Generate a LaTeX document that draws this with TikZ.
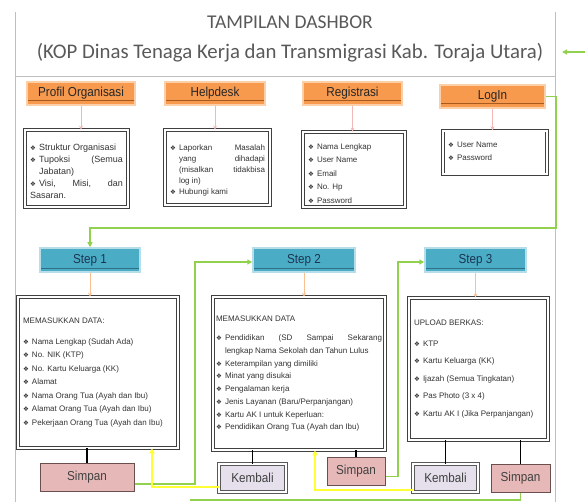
\documentclass[tikz,border=0pt]{standalone}
\usepackage{fontspec}
\setmainfont{Liberation Sans}
\newfontfamily\titlefont{Carlito}
\newfontfamily\hdrfont[FakeStretch=0.9]{Liberation Sans}
\newfontfamily\bulfont{DejaVu Sans}
\usepackage{xcolor}
\usepackage{tikz}
\usetikzlibrary{arrows.meta}
\definecolor{hdrorg}{HTML}{F79A4E}
\definecolor{hdrglow}{HTML}{FBCFA8}
\definecolor{hdrline}{HTML}{A65A1E}
\definecolor{stpblue}{HTML}{4BACC6}
\definecolor{stpglow}{HTML}{B7DDE8}
\definecolor{stpline}{HTML}{2E7187}
\definecolor{stptxt}{HTML}{1C3550}
\definecolor{spnfill}{HTML}{E6B9B8}
\definecolor{spnedge}{HTML}{6B4F4F}
\definecolor{kblfill}{HTML}{E5E0EC}
\definecolor{grn}{HTML}{92D050}
\definecolor{ylw}{HTML}{FFFF33}
\definecolor{pinkarr}{HTML}{F2B8B8}
\definecolor{orgarr}{HTML}{FAC090}
\newcommand\itm[1]{\par\noindent\hangindent=9pt\hangafter=1\hbox to 9pt{{\bulfont\fontsize{6.5}{6.5}\selectfont\char"2756}\hfil}#1}
\tikzset{
  ttl/.style  = {align=center, text=black!65, font=\titlefont\fontsize{19.5}{30}\selectfont},
  hdr/.style  = {rectangle, fill=hdrorg, draw=hdrglow, line width=1.5pt, minimum height=23pt,
                 text=black!85, font=\hdrfont\fontsize{13}{13}\selectfont,
                 path picture={\draw[hdrline, line width=1pt] ([yshift=4pt]path picture bounding box.south west) -- ([yshift=4pt]path picture bounding box.south east);}},
  stp/.style  = {rectangle, fill=stpblue, draw=stpglow, line width=1.5pt, minimum height=24pt,
                 text=stptxt, font=\hdrfont\fontsize{13}{13}\selectfont,
                 path picture={\draw[stpline, line width=0.8pt] ([yshift=4pt]path picture bounding box.south west) -- ([yshift=4pt]path picture bounding box.south east);}},
  lst/.style  = {rectangle, draw=black!75, double=white, double distance=2pt, line width=0.7pt,
                 fill=white, align=justify, inner xsep=5pt, text=black!80,
                 font=\fontsize{8}{#1}\selectfont},
  spn/.style  = {rectangle, fill=spnfill, draw=spnedge, line width=1pt, minimum height=28pt,
                 text=black!75, font=\hdrfont\fontsize{13}{13}\selectfont},
  kbl/.style  = {rectangle, fill=kblfill, draw=black!65, double=white, double distance=1.5pt,
                 line width=0.8pt, minimum height=28pt, text=black!75, font=\hdrfont\fontsize{13}{13}\selectfont},
  tik/.style  = {-{Stealth[length=4pt,width=4pt]}, draw=pinkarr, line width=0.8pt},
  tiko/.style = {-{Stealth[length=4pt,width=4pt]}, draw=orgarr, line width=0.8pt},
  gline/.style= {-{Triangle[length=5pt,width=5pt]}, draw=grn, line width=1.6pt},
  gplain/.style={draw=grn, line width=1.6pt},
  yline/.style= {-{Triangle[length=5pt,width=5pt]}, draw=ylw, line width=1.6pt},
  bline/.style= {draw=black, line width=1.3pt},
  frm/.style  = {draw=black!25, line width=0.8pt},
}
\begin{document}
\begin{tikzpicture}[x=1pt, y=-1pt]
  \useasboundingbox (0,0) rectangle (585,502);

  \draw[frm] (15,12) -- (15,502);
  \draw[frm] (555,12) -- (555,502);
  \draw[frm] (15,76) -- (555,76);

  \node[ttl] (title) at (290,39) {TAMPILAN DASHBOR\\{\fontsize{20.8}{30}\selectfont(KOP Dinas Tenaga Kerja dan Transmigrasi Kab. Toraja Utara)}};

  \node[hdr, minimum width=108pt] (prof)  at (81,93.5)  {Profil Organisasi};
  \node[hdr, minimum width=100pt] (help)  at (215,93.5) {Helpdesk};
  \node[hdr, minimum width=99pt]  (reg)   at (352.5,93.5) {Registrasi};
  \node[hdr, minimum width=105pt] (login) at (492.5,96.5) {LogIn};

  \node[lst=12, text width=93pt, minimum height=77pt, font=\fontsize{9}{12}\selectfont] (d1) at (76.5,168.5)
    {\itm{Struktur Organisasi}\itm{Tupoksi (Semua\linebreak Jabatan)}\itm{Visi, Misi, dan\linebreak Sasaran.}};
  \node[lst=11, text width=95pt, minimum height=75pt] (d2) at (217.5,167.5)
    {\itm{Laporkan Masalah\linebreak yang dihadapi\linebreak (misalkan tidakbisa\linebreak log in)}\itm{Hubungi kami}};
  \node[lst=13.5, text width=92pt, minimum height=75pt] (d3) at (354,169.5)
    {\itm{Nama Lengkap}\itm{User Name}\itm{Email}\itm{No. Hp}\itm{Password}};
  \node[lst=13.5, text width=94pt, minimum height=39pt] (d4) at (495,152.5)
    {\itm{User Name}\itm{Password}\par\vspace{10pt}};

  \node[stp, minimum width=100pt] (s1) at (90,260)    {Step 1};
  \node[stp, minimum width=102pt] (s2) at (304,260)   {Step 2};
  \node[stp, minimum width=101pt] (s3) at (475.5,260) {Step 3};

  \node[lst=13.5, text width=150pt, minimum width=160pt, minimum height=151pt] (dA) at (98,372.5)
    {MEMASUKKAN DATA:\par\vspace{7pt}\itm{Nama Lengkap (Sudah Ada)}\itm{No. NIK (KTP)}\itm{No. Kartu Keluarga (KK)}\itm{Alamat}\itm{Nama Orang Tua (Ayah dan Ibu)}\itm{Alamat Orang Tua (Ayah dan Ibu)}\itm{Pekerjaan Orang Tua (Ayah dan Ibu)}};
  \node[lst=12.7, text width=166pt, inner xsep=3pt, minimum width=172pt, minimum height=153pt] (dB) at (299,373.5)
    {MEMASUKKAN DATA\par\vspace{7pt}\itm{Pendidikan (SD Sampai Sekarang\linebreak \mbox{lengkap Nama Sekolah dan Tahun Lulus}}\itm{Keterampilan yang dimiliki}\itm{Minat yang disukai}\itm{Pengalaman kerja}\itm{Jenis Layanan (Baru/Perpanjangan)}\itm{Kartu AK I untuk Keperluan:}\itm{Pendidikan Orang Tua (Ayah dan Ibu)}};
  \node[lst=17.5, text width=129pt, minimum width=139pt, minimum height=142pt] (dC) at (478.5,369)
    {UPLOAD BERKAS:\par\vspace{3pt}\itm{KTP}\itm{Kartu Keluarga (KK)}\itm{Ijazah (Semua Tingkatan)}\itm{Pas Photo (3 x 4)}\itm{Kartu AK I (Jika Perpanjangan)}};

  \node[spn, minimum width=94pt] (sp1) at (87,477)    {Simpan};
  \node[kbl, minimum width=67pt] (kb1) at (252.5,478) {Kembali};
  \node[spn, minimum width=58pt] (sp2) at (356,471.5) {Simpan};
  \node[kbl, minimum width=65pt] (kb2) at (445.5,478) {Kembali};
  \node[spn, minimum width=59pt] (sp3) at (520.5,478) {Simpan};

  \coordinate (tA) at (586,52);
  \coordinate (tB) at (562,52);
  \coordinate (gR) at (556,228);
  \coordinate (gA) at (195,262);
  \coordinate (gB) at (398,262);
  \coordinate (gC) at (190,500);
  \coordinate (yA) at (152,0);
  \coordinate (yB) at (315,0);

  \draw[tik] (prof.south)  -- (prof.south |- d1.north);
  \draw[tik] (help.south)  -- (help.south |- d2.north);
  \draw[tik] (reg.south)   -- (reg.south |- d3.north);
  \draw[tik] (login.south) -- (login.south |- d4.north);
  \draw[tiko] (s1.south) -- (s1.south |- dA.north);
  \draw[tiko] (s2.south) -- (s2.south |- dB.north);
  \draw[tiko] (s3.south) -- (s3.south |- dC.north);

  \draw[bline] (dA.south -| sp1.north) -- (sp1.north);
  \draw[bline] (dB.south -| kb1.north) -- (kb1.north);
  \draw[bline] (dB.south -| sp2.north) -- (sp2.north);
  \draw[bline] (dC.south -| kb2.north) -- (kb2.north);
  \draw[bline] (dC.south -| sp3.north) -- (sp3.north);

  \draw[gline] (tA) -- (tB);
  \draw[gline] (login.east) -| (gR) -| (s1.north);
  \draw[gline] ([yshift=-7pt]sp1.east) -| (gA) -- (gA -| s2.west);
  \draw[gline] ([yshift=-5pt]sp2.east) -| (gB) -- (gB -| s3.west);
  \draw[gplain] (sp3.south) |- (gC);
  \draw[yline] ([yshift=-9pt]kb1.west) -| (yA |- dA.south);
  \draw[yline] ([yshift=-12pt]kb2.west) -| (yB |- dB.south);

\end{tikzpicture}
\end{document}
